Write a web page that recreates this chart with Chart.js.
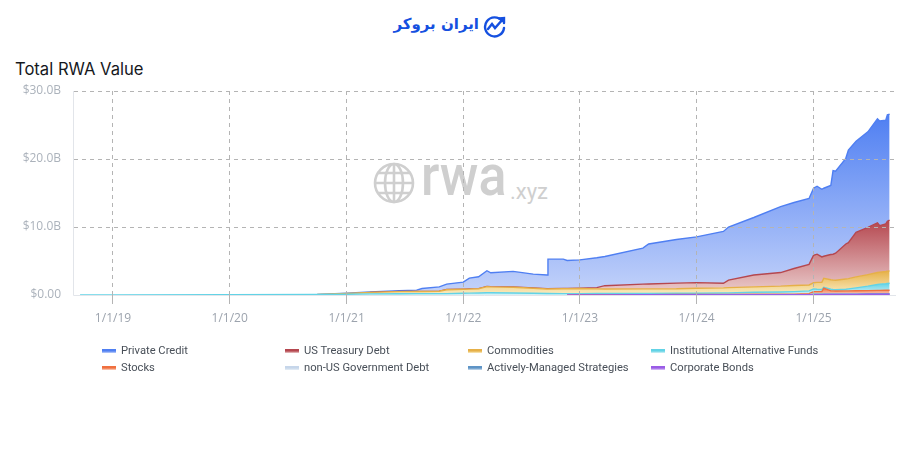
<!DOCTYPE html>
<html>
<head>
<meta charset="utf-8">
<title>Total RWA Value</title>
<script src="https://cdn.jsdelivr.net/npm/chart.js@4"></script>
<style>
  html, body { margin:0; padding:0; background:#fff; }
  #page { position:relative; width:900px; height:471px; overflow:hidden; }
  #page div, #page span { position:absolute; white-space:nowrap; }
  #chart { position:absolute; left:0; top:0; }
  #logoText { left:395px; top:15px; width:84px; text-align:center; direction:rtl; color:#1550e0;
    font:bold 15px 'DejaVu Sans', sans-serif; }
  #logoIcon { position:absolute; left:483px; top:15px; }
  #title { left:15px; top:59px; font:16.6px Inter, sans-serif; color:#16181d; }
  #wmGlobe { position:absolute; left:373px; top:162px; }
  #wmMain { left:421px; top:149px; font:500 52px Roboto, 'Liberation Sans', sans-serif; color:#cfcfcf;
    transform:scale(1,1.12); transform-origin:left bottom; }
  #wmSub { left:510px; top:179px; font:22px Roboto, 'Liberation Sans', sans-serif; color:#cfcfcf; }
  .swatch { width:14px; height:4px; }
  .legendText { font:11.2px Roboto, sans-serif; color:#484f58; }
</style>
</head>
<body>
<div id="page">
  <div id="logoText">ایران بروکر</div>
  <svg id="logoIcon" width="23" height="23" viewBox="0 0 23 23" fill="none" stroke="#1550e0" stroke-width="2.4" stroke-linecap="round">
    <path d="M19 6 A9.5 9.5 0 1 0 21 13"/>
    <path d="M5 14 L9 9 L12 13 L20 4"/>
    <path d="M16 3.5 L21 3 L21 8"/>
  </svg>
  <div id="title">Total RWA Value</div>
  <svg id="wmGlobe" width="42" height="42" viewBox="0 0 42 42" fill="none" stroke="#cfcfcf" stroke-width="2.6">
    <circle cx="21" cy="21" r="19"/>
    <ellipse cx="21" cy="21" rx="9" ry="19"/>
    <path d="M21 2 V40 M2 21 H40 M5 11 H37 M5 31 H37"/>
  </svg>
  <div id="wmMain">rwa</div>
  <div id="wmSub">.xyz</div>
  <canvas id="chart" width="900" height="471"></canvas>
</div>
<script>
'use strict';

// ── Data (billions of USD, per category) ──────────────────────────────────
var dates = [
  '2018-09-20','2019-01-01','2020-01-01','2020-10-01','2021-01-01','2021-03-15','2021-06-15','2021-08-08','2021-08-25','2021-10-18','2021-11-10',
  '2022-01-01','2022-01-20','2022-02-18','2022-03-16','2022-03-28','2022-06-06','2022-08-08','2022-09-20','2022-09-23','2022-11-10',
  '2022-11-22','2023-01-01','2023-02-23','2023-03-20','2023-07-17','2023-08-04','2023-10-30','2024-01-01','2024-03-25','2024-04-10',
  '2024-06-28','2024-09-20','2024-11-01','2024-12-18','2025-01-01','2025-01-12','2025-01-27','2025-02-02','2025-02-24','2025-03-03',
  '2025-03-11','2025-04-12','2025-04-20','2025-05-14','2025-06-20','2025-07-20','2025-07-27','2025-08-15','2025-08-20','2025-08-27'
];
var privateCredit = [
  0,0,0,0,.05,.07,.10,.17,.41,.63,.80,
  1.03,1.60,1.74,2.32,2.05,2.30,2.05,2.03,4.35,4.30,
  4.09,4.17,4.39,4.30,5.30,5.88,6.42,6.73,7.62,7.80,
  8.45,9.70,9.70,9.70,9.85,10.0,9.95,10.0,10.15,12.3,
  12.05,12.6,13.6,13.4,14.05,15.3,15.4,15.25,15.65,15.6
];
var treasuryDebt = [
  0,0,0,0,0,0,.02,.02,.02,.02,.02,
  .02,.02,.02,.02,.02,.02,.02,.03,.03,.05,
  .05,.05,.18,.49,.70,.72,.83,.82,.68,1.12,
  1.75,2.0,2.5,3.02,4.05,4.15,3.75,3.25,3.7,3.8,
  3.98,5.15,5.3,6.54,6.95,7.3,6.85,7.0,7.35,7.45
];
var commodities = [
  0,0,0,0,.10,.22,.32,.32,.32,.35,.58,
  .60,.60,.62,.89,.86,.85,.75,.67,.67,.72,
  .73,.75,.68,.66,.66,.66,.67,.74,.75,.78,
  .80,.85,.90,.88,.90,1.0,1.05,1.30,1.40,1.40,
  1.39,1.50,1.50,1.61,1.70,1.75,1.75,1.80,1.80,1.82
];
var institutionalFunds = [
  .005,.01,.04,.09,.12,.16,.18,.2,.2,.2,.2,
  .25,.27,.3,.34,.34,.3,.25,.22,.22,.2,
  .2,.15,.16,.16,.18,.18,.18,.19,.22,.22,
  .3,.33,.37,.4,.4,.35,.3,.15,.25,.2,
  .2,.25,.3,.43,.65,.87,.92,.95,1.0,1.03
];
var stocks = [
  0,0,0,0,0,0,0,0,0,0,0,
  0,0,0,0,0,0,0,0,0,0,
  0,.03,.04,.04,.03,.03,.04,.04,.03,.03,
  .05,.07,.08,.14,.35,.35,.35,.83,.43,.43,
  .41,.43,.43,.45,.46,.49,.49,.51,.51,.51
];
var nonUsDebt = [
  0,0,0,0,0,0,0,0,0,0,0,
  0,0,0,0,0,0,0,0,0,0,
  0,0,0,0,0,0,0,0,0,0,
  0,0,0,0,.05,.05,.05,.05,.05,.05,
  .05,.05,.05,.05,.05,.05,.05,.05,.05,.05
];
var activeStrategies = [
  0,0,0,0,0,0,0,0,0,0,0,
  0,0,0,0,0,0,0,0,0,0,
  0,0,0,0,0,0,0,0,0,0,
  0,0,0,0,.04,.04,.04,.04,.04,.04,
  .04,.04,.04,.04,.04,.04,.04,.04,.04,.04
];
var corporateBonds = [
  0,0,0,0,0,0,0,0,0,0,0,
  0,0,0,0,0,0,0,0,0,0,
  0,.02,.02,.02,.03,.03,.03,.03,.05,.05,
  .05,.05,.05,.06,.06,.06,.06,.08,.08,.08,
  .08,.08,.08,.08,.10,.10,.10,.10,.10,.10
];
var xTickDates  = ['2019-01-01','2020-01-01','2021-01-01','2022-01-01','2023-01-01','2024-01-01','2025-01-01'];
var xTickLabels = ['1/1/19','1/1/20','1/1/21','1/1/22','1/1/23','1/1/24','1/1/25'];
var yTickValues = [0, 10, 20, 30];
var yTickLabels = ['$0.00', '$10.0B', '$20.0B', '$30.0B'];

// legend order, two rows of four
var legendNames  = ['Private Credit','US Treasury Debt','Commodities','Institutional Alternative Funds','Stocks','non-US Government Debt','Actively-Managed Strategies','Corporate Bonds'];
var legendColors = ['#4f7ff2','#b5474f','#e6b048','#62d3e6','#f0703f','#c6d6ea','#5e94c6','#9a5ce6'];
var legendPale   = ['#c4d3fa','#ecd0d0','#fbeec4','#d8f2f6','#fbd5c6','#e8eff6','#cfe0ef','#e0cdf8'];
var seriesValues = [privateCredit, treasuryDebt, commodities, institutionalFunds, stocks, nonUsDebt, activeStrategies, corporateBonds];

function toTime(s) { return Date.parse(s + 'T00:00:00Z'); }

// top of a band over the whole series, from all the bands stacked under it
function bandMax(idx) {
  var best = 0;
  dates.forEach(function(d, i) {
    var sum = 0;
    for (var k = idx; k < seriesValues.length; k++) sum += seriesValues[k][i];
    if (sum > best) best = sum;
  });
  return best;
}

function bandFill(idx) {
  return function(c) {
    var chart = c.chart;
    if (!chart.chartArea) return legendPale[idx];
    var y = chart.scales.y;
    var g = chart.ctx.createLinearGradient(0, y.getPixelForValue(bandMax(idx)), 0, y.getPixelForValue(0));
    g.addColorStop(0, legendColors[idx]);
    g.addColorStop(1, legendPale[idx]);
    return g;
  };
}

// stacked bottom-up, so the last legend entry goes first
var datasets = [];
for (var i = seriesValues.length - 1; i >= 0; i--) {
  (function(idx) {
    datasets.push({
      label: legendNames[idx],
      data: dates.map(function(d, n) { return { x: toTime(d), y: seriesValues[idx][n] }; }),
      borderColor: legendColors[idx],
      backgroundColor: bandFill(idx),
      borderWidth: 1.4,
      pointRadius: 0,
      tension: 0,
      fill: idx === seriesValues.length - 1 ? 'origin' : '-1',
      segment: {
        // an empty band should not draw a line along the one below
        borderColor: function(s) {
          return (s.p0.parsed.y === 0 && s.p1.parsed.y === 0) ? 'transparent' : undefined;
        }
      }
    });
  })(i);
}

// pale solid axis lines, left and bottom
var axisLines = {
  id: 'axisLines',
  beforeDatasetsDraw: function(chart) {
    var a = chart.chartArea, ctx = chart.ctx;
    ctx.save();
    ctx.strokeStyle = '#e2e5ea';
    ctx.lineWidth = 1;
    ctx.beginPath();
    ctx.moveTo(a.left - 0.5, a.top);
    ctx.lineTo(a.left - 0.5, a.bottom + 0.5);
    ctx.lineTo(a.right, a.bottom + 0.5);
    ctx.stroke();
    ctx.restore();
  }
};

new Chart(document.getElementById('chart'), {
  type: 'line',
  data: { datasets: datasets },
  plugins: [axisLines],
  options: {
    responsive: false,
    animation: false,
    layout: { padding: { left: 0, right: 4, top: 91, bottom: 146 } },
    plugins: { legend: { display: false }, tooltip: { enabled: false } },
    scales: {
      x: {
        type: 'linear',
        min: Date.UTC(2018, 8, 1),
        max: Date.UTC(2025, 8, 16),
        afterBuildTicks: function(scale) {
          scale.ticks = xTickDates.map(function(d) { return { value: toTime(d) }; });
        },
        afterFit: function(scale) { scale.height = 30; },
        grid: { color: '#b4b4b4', lineWidth: 1, tickLength: 9, z: 1 },
        border: { display: false, dash: [4, 4] },
        ticks: {
          color: '#9ca3ad',
          font: { family: "'Open Sans', sans-serif", size: 12 },
          padding: 7,
          maxRotation: 0,
          autoSkip: false,
          callback: function(v) { return xTickLabels[xTickDates.map(toTime).indexOf(v)]; }
        }
      },
      y: {
        stacked: true,
        min: 0,
        max: 30,
        afterBuildTicks: function(scale) {
          scale.ticks = yTickValues.map(function(v) { return { value: v }; });
        },
        afterFit: function(scale) { scale.width = 74; },
        grid: {
          color: function(c) { return c.tick && c.tick.value === 0 ? 'transparent' : '#b4b4b4'; },
          lineWidth: 1, tickLength: 0, z: 1
        },
        border: { display: false, dash: [4, 4] },
        ticks: {
          color: '#abb2bb',
          font: { family: "'Open Sans', sans-serif", size: 12 },
          padding: 13,
          callback: function(v) { return yTickLabels[yTickValues.indexOf(v)]; }
        }
      }
    }
  }
});

// ── HTML legend ───────────────────────────────────────────────────────────
var page = document.getElementById('page');
legendNames.forEach(function(name, idx) {
  var left = 102 + (idx % 4) * 183;
  var top  = 344 + Math.floor(idx / 4) * 17;
  var sw = document.createElement('div');
  sw.className = 'swatch';
  sw.style.left = left + 'px';
  sw.style.top = (top + 5) + 'px';
  sw.style.background = 'linear-gradient(' + legendColors[idx] + ' 50%,' + legendPale[idx] + ')';
  page.appendChild(sw);
  var tx = document.createElement('span');
  tx.className = 'legendText';
  tx.style.left = (left + 19) + 'px';
  tx.style.top = top + 'px';
  tx.textContent = name;
  page.appendChild(tx);
});
</script>
</body>
</html>
